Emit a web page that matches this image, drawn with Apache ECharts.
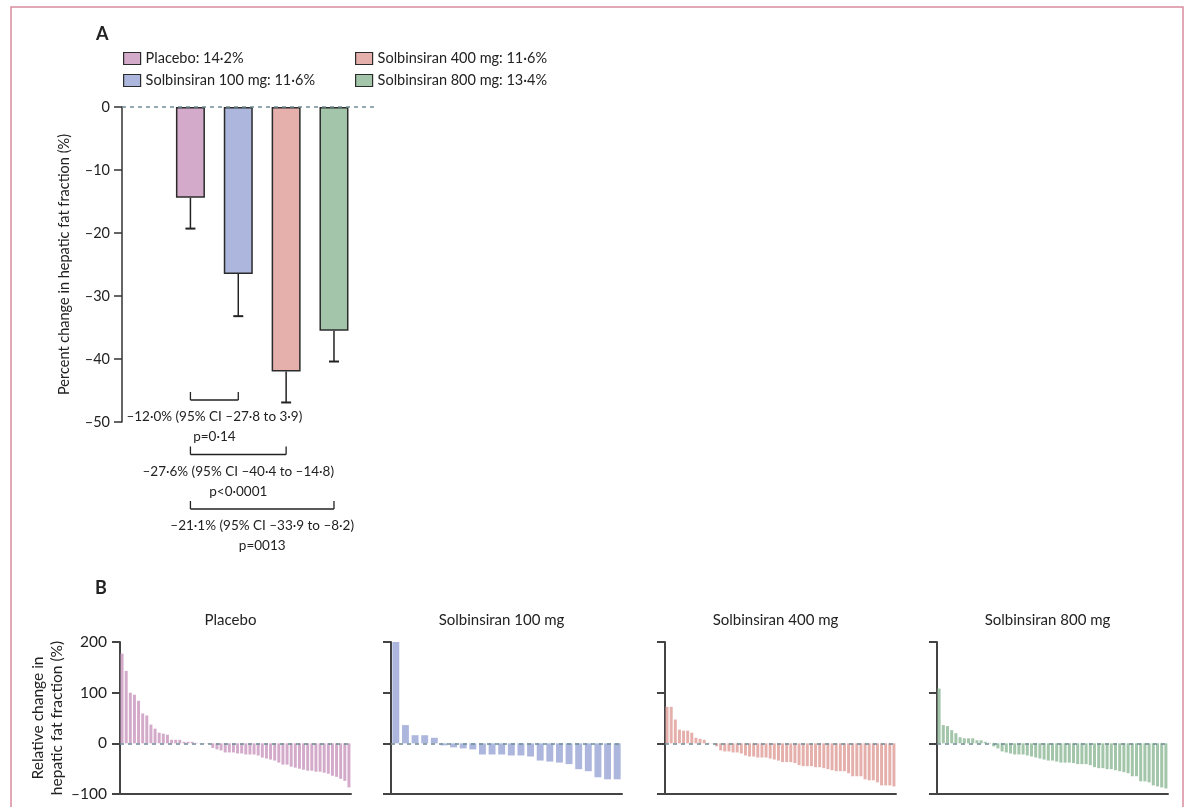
<!DOCTYPE html>
<html>
<head>
<meta charset="utf-8">
<script src="https://cdn.jsdelivr.net/npm/echarts@6/dist/echarts.min.js"></script>
<style>
  html, body { margin: 0; background: #fff; }
  #main { width: 1189px; height: 807px; }
</style>
</head>
<body>
<div id="main"></div>
<script>
// panel A: mean percent change with error bars
const groups = ['Placebo', 'Solbinsiran 100 mg', 'Solbinsiran 400 mg', 'Solbinsiran 800 mg'];
const baselineFat = ['14·2%', '11·6%', '11·6%', '13·4%'];
const colors = ['#d3aaca', '#adb7dd', '#e5afab', '#a3c6ab'];
const meanChange = [-14.4, -26.5, -42.0, -35.5];
const errorLow = [-19.3, -33.2, -46.9, -40.4];

// comparisons against placebo (index 0)
const compTo = [1, 2, 3];
const compEffect = ['–12·0% (95% CI –27·8 to 3·9)', '–27·6% (95% CI –40·4 to –14·8)', '–21·1% (95% CI –33·9 to –8·2)'];
const compP = ['p=0·14', 'p<0·0001', 'p=0013'];

// panel B: individual relative change, sorted (waterfall)
const placeboRel = [177, 143, 100, 96, 84, 59, 55, 37, 29, 21, 19, 17, 7, 7, 7, 3, 3, 3, 1, 0.5, -0.5, -1,
  -9, -12, -14, -18, -18, -18, -20, -20, -22, -22, -22, -24, -28, -30, -32, -34, -38, -42, -42, -46, -48,
  -50, -52, -54, -54, -56, -56, -58, -60, -64, -66, -70, -74, -87];
const dose100Rel = [200, 36, 16, 16, 11, -4, -8, -10, -12, -22, -22, -22, -24, -24, -26, -34, -36, -38, -41,
  -51, -55, -67, -71, -71];
const dose400Rel = [72, 72, 47, 27, 25, 25, 21, 11, 9, 7, 1, 0.5, -6, -14, -16, -16, -18, -18, -20, -24, -26,
  -26, -28, -28, -28, -30, -32, -34, -37, -37, -37, -39, -43, -45, -45, -45, -47, -47, -49, -51, -53, -55,
  -55, -55, -59, -65, -65, -65, -71, -73, -73, -77, -83, -83, -83, -85];
const dose800Rel = [108, 36, 34, 26, 20, 12, 10, 10, 10, 6, 6, 3, 1, -6, -10, -16, -18, -20, -22, -22, -22,
  -24, -26, -28, -30, -32, -34, -34, -36, -38, -38, -38, -39, -41, -41, -41, -43, -47, -49, -49, -51, -51,
  -53, -55, -57, -59, -65, -65, -75, -75, -77, -83, -85, -87, -89];
const relLists = [placeboRel, dose100Rel, dose400Rel, dose800Rel];

const FONT = 'Lato';
const INK = '#222';
const ZERO = '#6f8d96';
const minus = v => String(v).replace('-', '–');

const chart = echarts.init(document.getElementById('main'));

const bLefts = [120, 391, 665, 937];
const bWidth = 231;

const grids = [{ left: 122, top: 107, width: 256, height: 315 }];
const xAxes = [{ type: 'value', gridIndex: 0, min: -1.43, max: 3.92, show: false, axisLine: { onZero: false } }];
const yAxes = [{
  type: 'value', gridIndex: 0, min: -50, max: 0, interval: 10,
  name: 'Percent change in hepatic fat fraction (%)', nameLocation: 'middle', nameGap: 50,
  nameTextStyle: { fontFamily: FONT, fontSize: 14.5, color: INK },
  axisLine: { show: true, onZero: false, lineStyle: { color: '#333', width: 1.5 } },
  axisTick: { show: true, length: 8, lineStyle: { color: '#333', width: 1.5 } },
  axisLabel: { fontFamily: FONT, fontSize: 14.5, color: INK, margin: 12, formatter: minus },
  splitLine: { show: false }
}];

const series = [];
groups.forEach((g, i) => {
  series.push({
    name: g + ': ' + baselineFat[i],
    type: 'bar', xAxisIndex: 0, yAxisIndex: 0,
    data: [[i, meanChange[i]]],
    barWidth: 29, barGap: '-100%',
    itemStyle: { color: colors[i], borderColor: '#2b2b2b', borderWidth: 1.5 },
    markLine: i === 0 ? {
      silent: true, symbol: 'none', label: { show: false },
      lineStyle: { type: [4, 4], color: ZERO, width: 1.5 },
      data: [{ yAxis: 0 }]
    } : undefined
  });
});

// error bars (lower whisker)
series.push({
  type: 'custom', xAxisIndex: 0, yAxisIndex: 0, z: 5, silent: true,
  encode: { x: 0, y: [1, 2] },
  data: meanChange.map((m, i) => [i, m, errorLow[i]]),
  renderItem(params, api) {
    const top = api.coord([api.value(0), api.value(1)]);
    const bot = api.coord([api.value(0), api.value(2)]);
    return {
      type: 'group', children: [
        { type: 'line', shape: { x1: top[0], y1: top[1], x2: bot[0], y2: bot[1] }, style: { stroke: INK, lineWidth: 1.5 } },
        { type: 'line', shape: { x1: bot[0] - 5, y1: bot[1], x2: bot[0] + 5, y2: bot[1] }, style: { stroke: INK, lineWidth: 2 } }
      ]
    };
  }
});

// comparison brackets under the bars
series.push({
  type: 'custom', xAxisIndex: 0, yAxisIndex: 0, clip: false, silent: true,
  encode: { x: [0, 1] },
  data: compTo.map((t, k) => [0, t, k]),
  renderItem(params, api) {
    const k = params.dataIndex;
    const x0 = api.coord([api.value(0), 0])[0];
    const x1 = api.coord([api.value(1), 0])[0];
    const y = api.coord([0, -50])[1] - 22 + k * 54.5;
    const mid = (x0 + x1) / 2;
    const ln = (a, b, c, d) => ({ type: 'line', shape: { x1: a, y1: b, x2: c, y2: d }, style: { stroke: INK, lineWidth: 1.3 } });
    const txt = (s, yy) => ({
      type: 'text',
      style: { text: s, x: mid, y: yy, align: 'center', verticalAlign: 'middle', fill: INK, fontFamily: FONT, fontSize: 13.5 }
    });
    return {
      type: 'group', children: [
        ln(x0, y - 8, x0, y), ln(x0, y, x1, y), ln(x1, y - 8, x1, y),
        txt(compEffect[k], y + 17),
        txt(compP[k], y + 37)
      ]
    };
  }
});

const titles = [
  { text: 'A', left: 91, top: 20, textStyle: { fontFamily: FONT, fontSize: 18, fontWeight: 'bold', color: INK } },
  { text: 'B', left: 90, top: 574, textStyle: { fontFamily: FONT, fontSize: 18, fontWeight: 'bold', color: INK } }
];

relLists.forEach((vals, k) => {
  const gi = k + 1;
  grids.push({ left: bLefts[k], top: 642, width: bWidth, height: 152 });
  xAxes.push({
    type: 'category', gridIndex: gi, data: vals.map((v, j) => String(j + 1)),
    axisLine: { onZero: false, lineStyle: { color: '#444', width: 2 } },
    axisTick: { show: false }, axisLabel: { show: false }
  });
  yAxes.push({
    type: 'value', gridIndex: gi, min: -100, max: 200, interval: 100,
    name: k === 0 ? 'Relative change in\nhepatic fat fraction (%)' : '',
    nameLocation: 'middle', nameGap: 54,
    nameTextStyle: { fontFamily: FONT, fontSize: 15.5, color: INK, lineHeight: 19 },
    axisLine: { show: true, onZero: false, lineStyle: { color: '#444', width: 2 } },
    axisTick: { show: true, length: 8, lineStyle: { color: '#444', width: 2 } },
    axisLabel: { show: k === 0, fontFamily: FONT, fontSize: 15.5, color: INK, margin: 13, formatter: minus },
    splitLine: { show: false }
  });
  series.push({
    type: 'bar', xAxisIndex: gi, yAxisIndex: gi, data: vals,
    barCategoryGap: '28%',
    itemStyle: { color: colors[k] },
    markLine: {
      silent: true, symbol: 'none', label: { show: false },
      lineStyle: { type: [4, 4], color: ZERO, width: 1.5 },
      data: [{ yAxis: 0 }]
    }
  });
  titles.push({
    text: groups[k], left: bLefts[k] + bWidth / 2 - 10, top: 608, textAlign: 'center',
    textStyle: { fontFamily: FONT, fontSize: 15, fontWeight: 'normal', color: INK }
  });
});

const legendBase = {
  orient: 'vertical', top: 51, padding: 0, icon: 'rect',
  itemWidth: 17, itemHeight: 12, itemGap: 7,
  selectedMode: false,
  itemStyle: { borderColor: '#2b2b2b', borderWidth: 1.2 },
  textStyle: { fontFamily: FONT, fontSize: 14.5, color: INK }
};

chart.setOption({
  animation: false,
  backgroundColor: '#fff',
  title: titles,
  legend: [
    Object.assign({}, legendBase, { left: 123, data: [series[0].name, series[1].name] }),
    Object.assign({}, legendBase, { left: 355, data: [series[2].name, series[3].name] })
  ],
  grid: grids,
  xAxis: xAxes,
  yAxis: yAxes,
  series: series,
  graphic: [{
    type: 'rect', silent: true, z: 100,
    shape: { x: 11, y: 7, width: 1172, height: 900 },
    style: { fill: null, stroke: '#d98c9f', lineWidth: 1.5 }
  }]
});
</script>
</body>
</html>
